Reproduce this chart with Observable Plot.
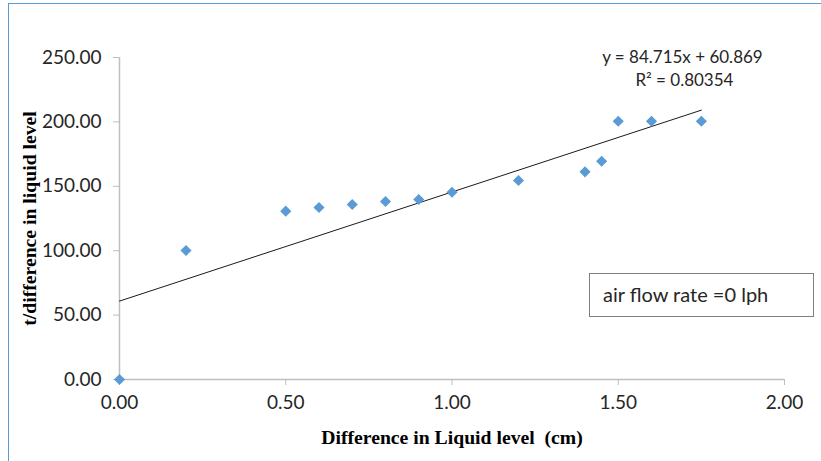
<!DOCTYPE html>
<html>
<head>
<meta charset="utf-8">
<script src="https://cdn.jsdelivr.net/npm/d3@7"></script>
<script src="https://cdn.jsdelivr.net/npm/@observablehq/plot@0.6"></script>
<style>
  html, body { margin: 0; padding: 0; background: #fff; }
  #wrap { position: relative; width: 821px; height: 461px; overflow: hidden; }
  #border { position: absolute; left: 8px; top: 3px; width: 900px; height: 600px;
            border-left: 1px solid #5b9bd5; border-top: 1px solid #5b9bd5; pointer-events: none; }
</style>
</head>
<body>
<div id="wrap"><div id="border"></div></div>
<script>
// Data
const diffLevel = [0, 0.2, 0.5, 0.6, 0.7, 0.8, 0.9, 1.0, 1.2, 1.4, 1.45, 1.5, 1.6, 1.75];
const tPerDiff  = [0, 100.2, 130.7, 133.5, 135.9, 138.2, 139.7, 145.4, 154.5, 161.2, 169.5, 200.5, 200.5, 200.5];
const xTicks = [0, 0.5, 1.0, 1.5, 2.0];
const yTicks = [0, 50, 100, 150, 200, 250];
const slope = 84.715;
const intercept = 60.869;
const eqText = "y = 84.715x + 60.869";
const r2Text = "R² = 0.80354";
const legendText = "air flow rate =0 lph";
const xTitle = "Difference in Liquid level  (cm)";
const yTitle = "t/difference in liquid level";

const points = diffLevel.map((x, i) => ({x, y: tPerDiff[i]}));
const trendXs = [d3.min(diffLevel), d3.max(diffLevel)];
const trend = trendXs.map(x => ({x, y: slope * x + intercept}));

const sans = "Lato, 'Open Sans', sans-serif";
const serif = "'Liberation Serif', 'DejaVu Serif', serif";
const axisGray = "#bfbfbf";
const textCol = "#262626";

const chart = Plot.plot({
  width: 821,
  height: 461,
  marginLeft: 119,
  marginRight: 37,
  marginTop: 57,
  marginBottom: 82,
  style: { fontFamily: sans, background: "transparent", overflow: "visible" },
  x: { domain: [0, 2] },
  y: { domain: [0, 250] },
  marks: [
    Plot.axisX({ ticks: xTicks, tickSize: 6, tickPadding: 10, tickFormat: d => d.toFixed(2),
                 fontSize: 19, stroke: axisGray, fill: textCol, label: null }),
    Plot.axisY({ ticks: yTicks, tickSize: 6, tickPadding: 12, tickFormat: d => d.toFixed(2),
                 fontSize: 19, stroke: axisGray, fill: textCol, label: null }),
    Plot.ruleY([0], { x1: 0, x2: 2, stroke: axisGray, strokeWidth: 1.5 }),
    Plot.ruleX([0], { y1: 0, y2: 250, stroke: axisGray, strokeWidth: 1.5 }),
    Plot.line(trend, { x: "x", y: "y", stroke: "#1a1a1a", strokeWidth: 1 }),
    Plot.dot(points, { x: "x", y: "y", symbol: "diamond2", fill: "#5b9bd5", stroke: "none", r: 5 }),
    Plot.text([eqText], { x: 1.693, y: 250, text: d => d, fontSize: 17, fill: textCol, fontFamily: sans }),
    Plot.text([r2Text], { x: 1.699, y: 232, text: d => d, fontSize: 17, fill: textCol, fontFamily: sans }),
    Plot.text([xTitle], { frameAnchor: "bottom", dy: 58, lineAnchor: "middle", textAnchor: "middle",
                          text: d => d, fontSize: 19.7, fontWeight: "bold", fontFamily: serif, fill: "#000" }),
    Plot.text([yTitle], { frameAnchor: "left", dx: -90, rotate: -90, textAnchor: "middle", lineAnchor: "middle",
                          text: d => d, fontSize: 19.7, fontWeight: "bold", fontFamily: serif, fill: "#000" })
  ]
});

// legend-like annotation box
const svg = d3.select(chart);
const g = svg.append("g");
g.append("rect").attr("x", 589.5).attr("y", 273.5).attr("width", 224).attr("height", 43)
  .attr("fill", "#fff").attr("stroke", "#7f7f7f").attr("stroke-width", 1);
g.append("text").attr("x", 603).attr("y", 295).attr("dy", "0.35em").attr("text-anchor", "start")
  .attr("font-family", sans).attr("font-size", 20).attr("fill", textCol).text(legendText);

chart.style.position = "absolute";
chart.style.left = "0";
chart.style.top = "0";
document.getElementById("wrap").appendChild(chart);
</script>
</body>
</html>
